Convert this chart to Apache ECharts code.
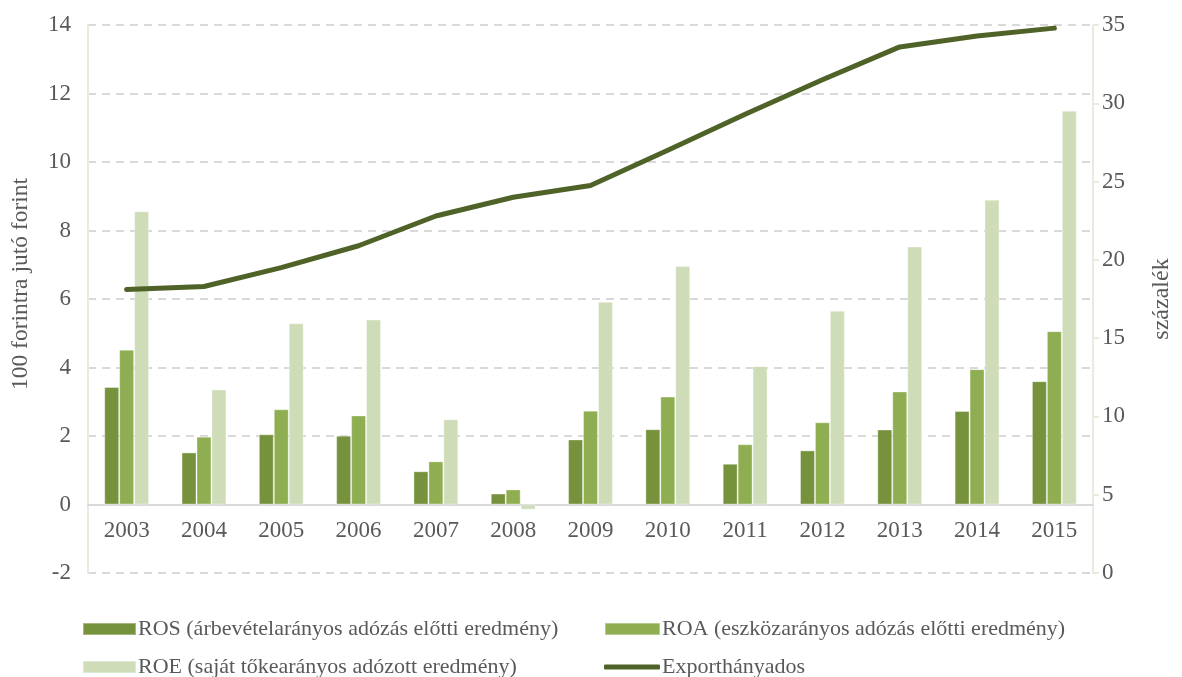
<!DOCTYPE html>
<html>
<head>
<meta charset="utf-8">
<script src="https://cdn.jsdelivr.net/npm/echarts@6/dist/echarts.min.js"></script>
<style>
  html, body { margin: 0; padding: 0; background: #ffffff; }
  #chart { width: 1182px; height: 677px; }
</style>
</head>
<body>
<div id="chart"></div>
<script>
// Years on the category axis
const years = ['2003', '2004', '2005', '2006', '2007', '2008', '2009', '2010', '2011', '2012', '2013', '2014', '2015'];

// Profitability ratios, forint per 100 forint (left axis)
const ros = [3.43, 1.52, 2.05, 2.01, 0.97, 0.32, 1.90, 2.20, 1.19, 1.58, 2.19, 2.73, 3.60];
const roa = [4.52, 1.98, 2.78, 2.60, 1.26, 0.44, 2.74, 3.15, 1.76, 2.40, 3.30, 3.95, 5.06];
const roe = [8.56, 3.36, 5.29, 5.40, 2.49, -0.15, 5.92, 6.96, 4.04, 5.66, 7.53, 8.90, 11.50];

// Export share, percent (right axis)
const exportShare = [18.1, 18.3, 19.5, 20.9, 22.8, 24.0, 24.75, 27.0, 29.3, 31.5, 33.6, 34.3, 34.8];

const seriesNames = [
  'ROS (árbevételarányos adózás előtti eredmény)',
  'ROA (eszközarányos adózás előtti eredmény)',
  'ROE (saját tőkearányos adózott eredmény)',
  'Exporthányados'
];

const FONT = "'Liberation Serif', 'Times New Roman', serif";
const TEXT = '#595959';
const AXIS_BEIGE = '#ece9df';

// Grid geometry: left axis runs -2..14, so the zero line sits 2/16 of the plot height above the bottom
const GRID_TOP = 25, GRID_BOTTOM = 104, CHART_H = 677;
const plotH = CHART_H - GRID_TOP - GRID_BOTTOM;
const zeroOffset = plotH * 2 / 16;

const chart = echarts.init(document.getElementById('chart'), null, { renderer: 'canvas' });

const barBorder = 'rgba(255,255,255,0.35)';

// One legend block per entry, laid out in two aligned columns
function legendItem(name, left, top, width, height, icon) {
  return {
    data: [name],
    orient: 'horizontal',
    left: left, top: top,
    icon: icon,
    itemWidth: width, itemHeight: height, itemGap: 0,
    textStyle: { fontFamily: FONT, fontSize: 22, color: TEXT, padding: [0, 0, 0, -3] }
  };
}

chart.setOption({
  animation: false,
  backgroundColor: '#ffffff',
  textStyle: { fontFamily: FONT, color: TEXT },
  grid: { left: 88, right: 85, top: GRID_TOP, bottom: GRID_BOTTOM, containLabel: false },
  legend: [
    legendItem(seriesNames[0], 77, 613, 53, 12, 'rect'),
    legendItem(seriesNames[1], 599, 613, 55, 12, 'rect'),
    legendItem(seriesNames[2], 77, 651, 53, 12, 'rect'),
    legendItem(seriesNames[3], 599, 651, 56, 5, 'roundRect')
  ],
  xAxis: {
    type: 'category',
    data: years,
    position: 'bottom',
    offset: -zeroOffset,
    axisLine: { onZero: false, lineStyle: { color: '#d9d9d9', width: 2 } },
    axisTick: { show: false },
    axisLabel: { fontFamily: FONT, fontSize: 23, color: TEXT, margin: 15 },
    splitLine: { show: false }
  },
  yAxis: [
    {
      type: 'value',
      min: -2, max: 14, interval: 2,
      name: '100 forintra jutó forint',
      nameLocation: 'middle',
      nameRotate: 90,
      nameGap: 55,
      nameTextStyle: { fontFamily: FONT, fontSize: 23.5, color: TEXT, padding: [0, 0, 0, 30] },
      axisLine: { show: true, lineStyle: { color: AXIS_BEIGE, width: 2 } },
      axisTick: { show: false },
      axisLabel: { fontFamily: FONT, fontSize: 23, color: TEXT, margin: 17 },
      splitLine: { show: true, lineStyle: { color: '#d9d9d9', width: 2, type: [8, 6] } }
    },
    {
      type: 'value',
      min: 0, max: 35, interval: 5,
      name: 'százalék',
      nameLocation: 'middle',
      nameRotate: 90,
      nameGap: 57,
      nameTextStyle: { fontFamily: FONT, fontSize: 24, color: TEXT },
      axisLine: { show: true, lineStyle: { color: AXIS_BEIGE, width: 2 } },
      axisTick: { show: true, length: 6, lineStyle: { color: AXIS_BEIGE, width: 2 } },
      axisLabel: { fontFamily: FONT, fontSize: 23, color: TEXT, margin: 9 },
      splitLine: { show: false }
    }
  ],
  series: [
    {
      name: seriesNames[0], type: 'bar', data: ros, yAxisIndex: 0,
      barGap: '0%', barCategoryGap: '42%',
      itemStyle: { color: '#77923c', borderColor: barBorder, borderWidth: 1 }
    },
    {
      name: seriesNames[1], type: 'bar', data: roa, yAxisIndex: 0,
      barGap: '0%', barCategoryGap: '42%',
      itemStyle: { color: '#8fae52', borderColor: barBorder, borderWidth: 1 }
    },
    {
      name: seriesNames[2], type: 'bar', data: roe, yAxisIndex: 0,
      barGap: '0%', barCategoryGap: '42%',
      itemStyle: { color: '#cfdcb8', borderColor: barBorder, borderWidth: 1 }
    },
    {
      name: seriesNames[3], type: 'line', data: exportShare, yAxisIndex: 1,
      symbol: 'none', showSymbol: false, smooth: false,
      lineStyle: { color: '#4f6228', width: 5, cap: 'round', join: 'round' },
      itemStyle: { color: '#4f6228' },
      z: 5
    }
  ]
});
</script>
</body>
</html>
